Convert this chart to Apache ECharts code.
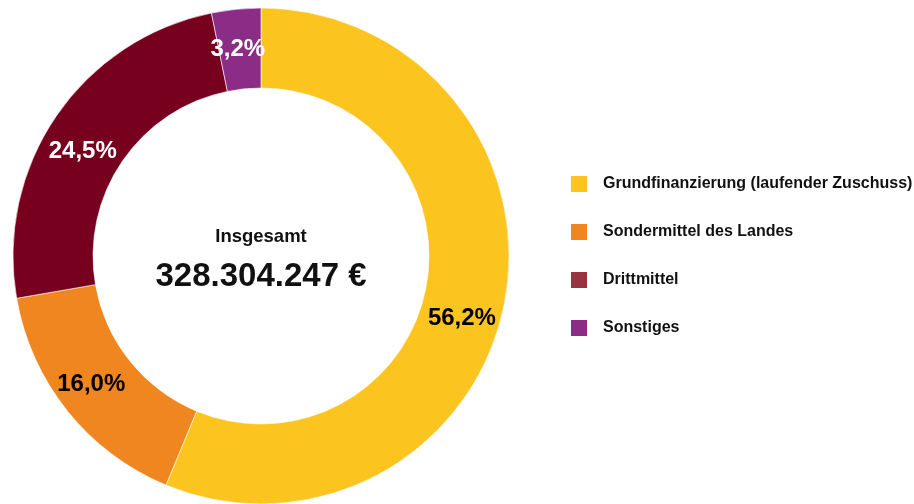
<!DOCTYPE html>
<html>
<head>
<meta charset="utf-8">
<script src="https://cdn.jsdelivr.net/npm/echarts@6/dist/echarts.min.js"></script>
<style>
  html, body { margin: 0; padding: 0; background: #fff; }
  #chart { width: 914px; height: 504px; }
</style>
</head>
<body>
<div id="chart"></div>
<script>
// Funding sources (share of total budget, %)
const categories = [
  'Grundfinanzierung (laufender Zuschuss)',
  'Sondermittel des Landes',
  'Drittmittel',
  'Sonstiges'
];
const shares = [56.2, 16.0, 24.5, 3.2];
const totalLabel = 'Insgesamt';
const totalValue = '328.304.247 €';

// Styling
const sliceColors = ['#FCC41F', '#F0861F', '#78001F', '#8B2D87'];
const legendColors = ['#FCC41F', '#F0861F', '#993340', '#8B2D87'];
const labelColors = ['#000000', '#000000', '#ffffff', '#ffffff'];
const labelNudge = [[-6, 21], [-5, -3], [-4, 14], [-2, 3]];
const fontFamily = '"Liberation Sans", Arial, sans-serif';

const chart = echarts.init(document.getElementById('chart'));

chart.setOption({
  animation: false,
  backgroundColor: '#ffffff',
  legend: {
    orient: 'vertical',
    left: 566,
    top: 171,
    itemWidth: 16,
    itemHeight: 16,
    itemGap: 32,
    icon: 'rect',
    selectedMode: false,
    itemStyle: { borderWidth: 0 },
    textStyle: {
      fontFamily: fontFamily,
      fontSize: 16,
      fontWeight: 'bold',
      color: '#111',
      padding: [0, 0, 0, 11]
    },
    data: categories.map((name, i) => ({
      name: name,
      itemStyle: { color: legendColors[i], borderWidth: 0 }
    }))
  },
  graphic: [
    {
      type: 'text',
      x: 261,
      y: 237,
      style: {
        text: totalLabel,
        fill: '#111',
        font: 'bold 18.5px ' + fontFamily,
        textAlign: 'center',
        textVerticalAlign: 'middle'
      }
    },
    {
      type: 'text',
      x: 261,
      y: 277,
      style: {
        text: totalValue,
        fill: '#111',
        font: 'bold 33px ' + fontFamily,
        textAlign: 'center',
        textVerticalAlign: 'middle'
      }
    }
  ],
  series: [
    {
      type: 'pie',
      center: [261, 256],
      radius: [168, 248],
      startAngle: 90,
      clockwise: true,
      silent: true,
      itemStyle: { borderColor: '#ffffff', borderWidth: 0.6 },
      label: {
        show: true,
        position: 'inside',
        fontFamily: fontFamily,
        fontSize: 24,
        fontWeight: 'bold',
        formatter: p => p.value.toFixed(1).replace('.', ',') + '%'
      },
      labelLine: { show: false },
      data: categories.map((name, i) => ({
        name: name,
        value: shares[i],
        itemStyle: { color: sliceColors[i] },
        label: { color: labelColors[i], offset: labelNudge[i] }
      }))
    }
  ]
});
</script>
</body>
</html>
